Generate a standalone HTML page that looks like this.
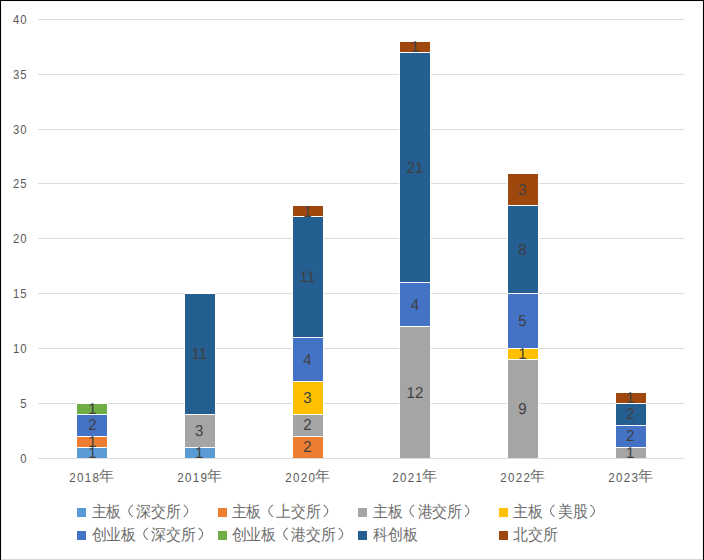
<!DOCTYPE html><html><head><meta charset="utf-8"><style>
html,body{margin:0;padding:0;background:#fff;}
body{width:704px;height:560px;overflow:hidden;position:relative;}
svg{position:absolute;left:0;top:0;}
text{font-family:"Liberation Sans",sans-serif;}
</style></head><body>
<svg width="704" height="560" viewBox="0 0 704 560">
<rect x="0" y="0" width="704" height="560" fill="#fff"/>
<text transform="translate(0,463) scale(0.87,1)" x="23.22" y="0" font-size="13" fill="#595959">0</text>
<rect x="38" y="403" width="646" height="1" fill="#DCDCDC"/>
<text transform="translate(0,408) scale(0.87,1)" x="23.22" y="0" font-size="13" fill="#595959">5</text>
<rect x="38" y="348" width="646" height="1" fill="#DCDCDC"/>
<text transform="translate(0,353) scale(0.87,1)" x="14.89 23.22" y="0" font-size="13" fill="#595959">10</text>
<rect x="38" y="293" width="646" height="1" fill="#DCDCDC"/>
<text transform="translate(0,298) scale(0.87,1)" x="14.89 23.22" y="0" font-size="13" fill="#595959">15</text>
<rect x="38" y="238" width="646" height="1" fill="#DCDCDC"/>
<text transform="translate(0,243) scale(0.87,1)" x="14.89 23.22" y="0" font-size="13" fill="#595959">20</text>
<rect x="38" y="183" width="646" height="1" fill="#DCDCDC"/>
<text transform="translate(0,188) scale(0.87,1)" x="14.89 23.22" y="0" font-size="13" fill="#595959">25</text>
<rect x="38" y="129" width="646" height="1" fill="#DCDCDC"/>
<text transform="translate(0,134) scale(0.87,1)" x="14.89 23.22" y="0" font-size="13" fill="#595959">30</text>
<rect x="38" y="74" width="646" height="1" fill="#DCDCDC"/>
<text transform="translate(0,79) scale(0.87,1)" x="14.89 23.22" y="0" font-size="13" fill="#595959">35</text>
<rect x="38" y="19" width="646" height="1" fill="#DCDCDC"/>
<text transform="translate(0,24) scale(0.87,1)" x="14.89 23.22" y="0" font-size="13" fill="#595959">40</text>
<rect x="76" y="403" width="32" height="55" fill="#fff"/>
<rect x="77" y="448" width="30" height="10" fill="#5B9BD5"/>
<rect x="77" y="437" width="30" height="10" fill="#ED7D31"/>
<rect x="77" y="415" width="30" height="21" fill="#4472C4"/>
<rect x="77" y="404" width="30" height="10" fill="#70AD47"/>
<text transform="translate(92.3,458) scale(0.95,1)" font-size="15.8" text-rendering="geometricPrecision" fill="#404040" text-anchor="middle">1</text>
<text transform="translate(92.3,447) scale(0.95,1)" font-size="15.8" text-rendering="geometricPrecision" fill="#404040" text-anchor="middle">1</text>
<text transform="translate(92.3,430) scale(0.95,1)" font-size="15.8" text-rendering="geometricPrecision" fill="#404040" text-anchor="middle">2</text>
<text transform="translate(92.3,414) scale(0.95,1)" font-size="15.8" text-rendering="geometricPrecision" fill="#404040" text-anchor="middle">1</text>
<rect x="184" y="293" width="32" height="165" fill="#fff"/>
<rect x="185" y="448" width="30" height="10" fill="#5B9BD5"/>
<rect x="185" y="415" width="30" height="32" fill="#A5A5A5"/>
<rect x="185" y="294" width="30" height="120" fill="#255E91"/>
<text transform="translate(199.25,458) scale(0.95,1)" font-size="15.8" text-rendering="geometricPrecision" fill="#404040" text-anchor="middle">1</text>
<text transform="translate(199.25,436) scale(0.95,1)" font-size="15.8" text-rendering="geometricPrecision" fill="#404040" text-anchor="middle">3</text>
<text transform="translate(199.25,359) scale(0.95,1)" font-size="15.8" text-rendering="geometricPrecision" fill="#404040" text-anchor="middle">11</text>
<rect x="292" y="205" width="32" height="253" fill="#fff"/>
<rect x="293" y="437" width="30" height="21" fill="#ED7D31"/>
<rect x="293" y="415" width="30" height="21" fill="#A5A5A5"/>
<rect x="293" y="382" width="30" height="32" fill="#FFC000"/>
<rect x="293" y="338" width="30" height="43" fill="#4472C4"/>
<rect x="293" y="217" width="30" height="120" fill="#255E91"/>
<rect x="293" y="206" width="30" height="10" fill="#9E480E"/>
<text transform="translate(307.4,452) scale(0.95,1)" font-size="15.8" text-rendering="geometricPrecision" fill="#404040" text-anchor="middle">2</text>
<text transform="translate(307.4,430) scale(0.95,1)" font-size="15.8" text-rendering="geometricPrecision" fill="#404040" text-anchor="middle">2</text>
<text transform="translate(307.4,403) scale(0.95,1)" font-size="15.8" text-rendering="geometricPrecision" fill="#404040" text-anchor="middle">3</text>
<text transform="translate(307.4,365) scale(0.95,1)" font-size="15.8" text-rendering="geometricPrecision" fill="#404040" text-anchor="middle">4</text>
<text transform="translate(307.4,282) scale(0.95,1)" font-size="15.8" text-rendering="geometricPrecision" fill="#404040" text-anchor="middle">11</text>
<text transform="translate(307.4,217) scale(0.95,1)" font-size="15.8" text-rendering="geometricPrecision" fill="#404040" text-anchor="middle">1</text>
<rect x="399" y="41" width="32" height="417" fill="#fff"/>
<rect x="400" y="327" width="30" height="131" fill="#A5A5A5"/>
<rect x="400" y="283" width="30" height="43" fill="#4472C4"/>
<rect x="400" y="53" width="30" height="229" fill="#255E91"/>
<rect x="400" y="42" width="30" height="10" fill="#9E480E"/>
<text transform="translate(414.9,398) scale(0.95,1)" font-size="15.8" text-rendering="geometricPrecision" fill="#404040" text-anchor="middle">12</text>
<text transform="translate(414.9,310) scale(0.95,1)" font-size="15.8" text-rendering="geometricPrecision" fill="#404040" text-anchor="middle">4</text>
<text transform="translate(414.9,173) scale(0.95,1)" font-size="15.8" text-rendering="geometricPrecision" fill="#404040" text-anchor="middle">21</text>
<text transform="translate(414.9,52) scale(0.95,1)" font-size="15.8" text-rendering="geometricPrecision" fill="#404040" text-anchor="middle">1</text>
<rect x="507" y="173" width="32" height="285" fill="#fff"/>
<rect x="508" y="360" width="30" height="98" fill="#A5A5A5"/>
<rect x="508" y="349" width="30" height="10" fill="#FFC000"/>
<rect x="508" y="294" width="30" height="54" fill="#4472C4"/>
<rect x="508" y="206" width="30" height="87" fill="#255E91"/>
<rect x="508" y="174" width="30" height="31" fill="#9E480E"/>
<text transform="translate(522.3,414) scale(0.95,1)" font-size="15.8" text-rendering="geometricPrecision" fill="#404040" text-anchor="middle">9</text>
<text transform="translate(522.3,359) scale(0.95,1)" font-size="15.8" text-rendering="geometricPrecision" fill="#404040" text-anchor="middle">1</text>
<text transform="translate(522.3,326) scale(0.95,1)" font-size="15.8" text-rendering="geometricPrecision" fill="#404040" text-anchor="middle">5</text>
<text transform="translate(522.3,255) scale(0.95,1)" font-size="15.8" text-rendering="geometricPrecision" fill="#404040" text-anchor="middle">8</text>
<text transform="translate(522.3,195) scale(0.95,1)" font-size="15.8" text-rendering="geometricPrecision" fill="#404040" text-anchor="middle">3</text>
<rect x="615" y="392" width="32" height="66" fill="#fff"/>
<rect x="616" y="448" width="30" height="10" fill="#A5A5A5"/>
<rect x="616" y="426" width="30" height="21" fill="#4472C4"/>
<rect x="616" y="404" width="30" height="21" fill="#255E91"/>
<rect x="616" y="393" width="30" height="10" fill="#9E480E"/>
<text transform="translate(630.1,458) scale(0.95,1)" font-size="15.8" text-rendering="geometricPrecision" fill="#404040" text-anchor="middle">1</text>
<text transform="translate(630.1,441) scale(0.95,1)" font-size="15.8" text-rendering="geometricPrecision" fill="#404040" text-anchor="middle">2</text>
<text transform="translate(630.1,419) scale(0.95,1)" font-size="15.8" text-rendering="geometricPrecision" fill="#404040" text-anchor="middle">2</text>
<text transform="translate(630.1,403) scale(0.95,1)" font-size="15.8" text-rendering="geometricPrecision" fill="#404040" text-anchor="middle">1</text>
<rect x="38" y="458" width="646" height="1" fill="#DCDCDC"/>
<text transform="translate(0,481.8) scale(0.86,1)" x="80.41 89.48 98.55 107.62" y="0" font-size="13.5" fill="#595959">2018</text>
<text x="99.25" y="480.8" font-size="14.7" fill="#6E6E6E">年</text>
<text transform="translate(0,481.8) scale(0.86,1)" x="205.99 215.06 224.13 233.20" y="0" font-size="13.5" fill="#595959">2019</text>
<text x="207.25" y="480.8" font-size="14.7" fill="#6E6E6E">年</text>
<text transform="translate(0,481.8) scale(0.86,1)" x="331.57 340.64 349.71 358.78" y="0" font-size="13.5" fill="#595959">2020</text>
<text x="315.25" y="480.8" font-size="14.7" fill="#6E6E6E">年</text>
<text transform="translate(0,481.8) scale(0.86,1)" x="455.99 465.06 474.13 483.20" y="0" font-size="13.5" fill="#595959">2021</text>
<text x="422.25" y="480.8" font-size="14.7" fill="#6E6E6E">年</text>
<text transform="translate(0,481.8) scale(0.86,1)" x="581.57 590.64 599.71 608.78" y="0" font-size="13.5" fill="#595959">2022</text>
<text x="530.25" y="480.8" font-size="14.7" fill="#6E6E6E">年</text>
<text transform="translate(0,481.8) scale(0.86,1)" x="707.15 716.22 725.29 734.36" y="0" font-size="13.5" fill="#595959">2023</text>
<text x="638.25" y="480.8" font-size="14.7" fill="#6E6E6E">年</text>
<rect x="77" y="508" width="9" height="9" fill="#5B9BD5"/>
<path d="M132.85,504.90 Q124.85,510.85 132.85,516.80" fill="none" stroke="#6E6E6E" stroke-width="1.05"/>
<path d="M183.75,504.90 Q191.75,510.85 183.75,516.80" fill="none" stroke="#6E6E6E" stroke-width="1.05"/>
<text transform="translate(0,517.2) scale(1,1.07)" x="91.55 106.50 136.40 151.35 166.30" y="0" font-size="15" fill="#6E6E6E">主板深交所</text>
<rect x="218" y="508" width="9" height="9" fill="#ED7D31"/>
<path d="M272.85,504.90 Q264.85,510.85 272.85,516.80" fill="none" stroke="#6E6E6E" stroke-width="1.05"/>
<path d="M323.75,504.90 Q331.75,510.85 323.75,516.80" fill="none" stroke="#6E6E6E" stroke-width="1.05"/>
<text transform="translate(0,517.2) scale(1,1.07)" x="231.55 246.50 276.40 291.35 306.30" y="0" font-size="15" fill="#6E6E6E">主板上交所</text>
<rect x="358" y="508" width="9" height="9" fill="#A5A5A5"/>
<path d="M414.00,504.90 Q406.00,510.85 414.00,516.80" fill="none" stroke="#6E6E6E" stroke-width="1.05"/>
<path d="M464.90,504.90 Q472.90,510.85 464.90,516.80" fill="none" stroke="#6E6E6E" stroke-width="1.05"/>
<text transform="translate(0,517.2) scale(1,1.07)" x="372.70 387.65 417.55 432.50 447.45" y="0" font-size="15" fill="#6E6E6E">主板港交所</text>
<rect x="499" y="508" width="9" height="9" fill="#FFC000"/>
<path d="M554.50,504.90 Q546.50,510.85 554.50,516.80" fill="none" stroke="#6E6E6E" stroke-width="1.05"/>
<path d="M590.45,504.90 Q598.45,510.85 590.45,516.80" fill="none" stroke="#6E6E6E" stroke-width="1.05"/>
<text transform="translate(0,517.2) scale(1,1.07)" x="513.20 528.15 558.05 573.00" y="0" font-size="15" fill="#6E6E6E">主板美股</text>
<rect x="77" y="531" width="9" height="9" fill="#4472C4"/>
<path d="M147.80,527.90 Q139.80,533.85 147.80,539.80" fill="none" stroke="#6E6E6E" stroke-width="1.05"/>
<path d="M198.70,527.90 Q206.70,533.85 198.70,539.80" fill="none" stroke="#6E6E6E" stroke-width="1.05"/>
<text transform="translate(0,540.2) scale(1,1.07)" x="91.55 106.50 121.45 151.35 166.30 181.25" y="0" font-size="15" fill="#6E6E6E">创业板深交所</text>
<rect x="218" y="531" width="9" height="9" fill="#70AD47"/>
<path d="M287.80,527.90 Q279.80,533.85 287.80,539.80" fill="none" stroke="#6E6E6E" stroke-width="1.05"/>
<path d="M338.70,527.90 Q346.70,533.85 338.70,539.80" fill="none" stroke="#6E6E6E" stroke-width="1.05"/>
<text transform="translate(0,540.2) scale(1,1.07)" x="231.55 246.50 261.45 291.35 306.30 321.25" y="0" font-size="15" fill="#6E6E6E">创业板港交所</text>
<rect x="358" y="531" width="9" height="9" fill="#255E91"/>
<text transform="translate(0,540.2) scale(1,1.07)" x="372.70 387.65 402.60" y="0" font-size="15" fill="#6E6E6E">科创板</text>
<rect x="499" y="531" width="9" height="9" fill="#9E480E"/>
<text transform="translate(0,540.2) scale(1,1.07)" x="513.20 528.15 543.10" y="0" font-size="15" fill="#6E6E6E">北交所</text>
<rect x="1" y="1" width="702" height="1" fill="#F3F3F3"/>
<rect x="1" y="1" width="1" height="558" fill="#F1F1F1"/>
<rect x="702" y="1" width="1" height="558" fill="#F1F1F1"/>
<rect x="0" y="0" width="704" height="1" fill="#000"/>
<rect x="0" y="0" width="1" height="560" fill="#000"/>
<rect x="703" y="0" width="1" height="560" fill="#000"/>
<rect x="1" y="559" width="702" height="1" fill="#D6D6D6"/>
</svg></body></html>
